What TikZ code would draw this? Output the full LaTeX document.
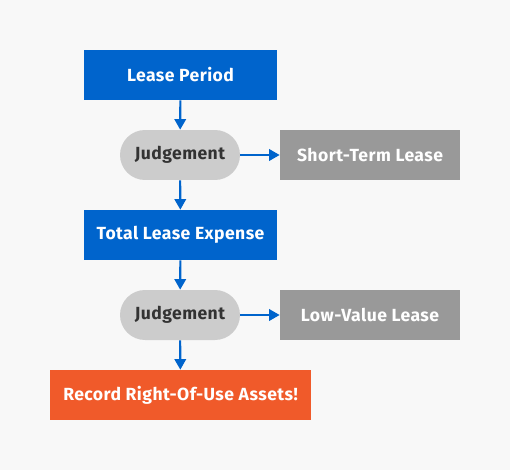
\documentclass[tikz,border=0pt]{standalone}
\usepackage{fontspec}
\setmainfont{Fira Sans}[LetterSpace=2.5]
\usetikzlibrary{arrows.meta}
\definecolor{bgcol}{HTML}{F8F8F8}
\definecolor{leaseblue}{HTML}{0064CC}
\definecolor{judgegray}{HTML}{CCCCCC}
\definecolor{exitgray}{HTML}{999999}
\definecolor{recordorange}{HTML}{F05A2A}
\definecolor{textdark}{HTML}{333333}

\begin{document}
\begin{tikzpicture}[x=0.02cm, y=-0.02cm,
				every node/.style={ inner sep=0pt, font=\fontsize{10}{12}\selectfont\bfseries },
				stepbox/.style={ rectangle, fill=leaseblue, text=white, minimum height=1cm },
				judgebox/.style={ rectangle, rounded corners=0.5cm, fill=judgegray,
						text=textdark, minimum width=2.4cm, minimum height=1cm },
				exitbox/.style={ rectangle, fill=exitgray, text=white,
						minimum width=3.6cm, minimum height=1cm },
				flow/.style={ draw=leaseblue, line width=1.2pt,
						-{Triangle[length=6pt, width=6.5pt]} } ]

			\fill[bgcol] (0,0) rectangle (510,470);
			\useasboundingbox (0,0) rectangle (510,470);

			\node[stepbox, minimum width=3.86cm] (period) at (180.5,75) {Lease Period};
			\node[judgebox] (judge1) at (180,155) {Judgement};
			\node[exitbox] (short) at (370,155) {Short-Term Lease};
			\node[stepbox, minimum width=3.86cm] (expense) at (180.5,235) {Total Lease Expense};
			\node[judgebox] (judge2) at (180,315) {Judgement};
			\node[exitbox] (lowvalue) at (370,315) {Low-Value Lease};
			\node[stepbox, fill=recordorange, minimum width=5.22cm] (record) at (180.5,395)
			{Record Right-Of-Use Assets!};

			\draw[flow] (period) -- (judge1);
			\draw[flow] (judge1) -- (short);
			\draw[flow] (judge1) -- (expense);
			\draw[flow] (expense) -- (judge2);
			\draw[flow] (judge2) -- (lowvalue);
			\draw[flow] (judge2) -- (record);
		\end{tikzpicture}
\end{document}
